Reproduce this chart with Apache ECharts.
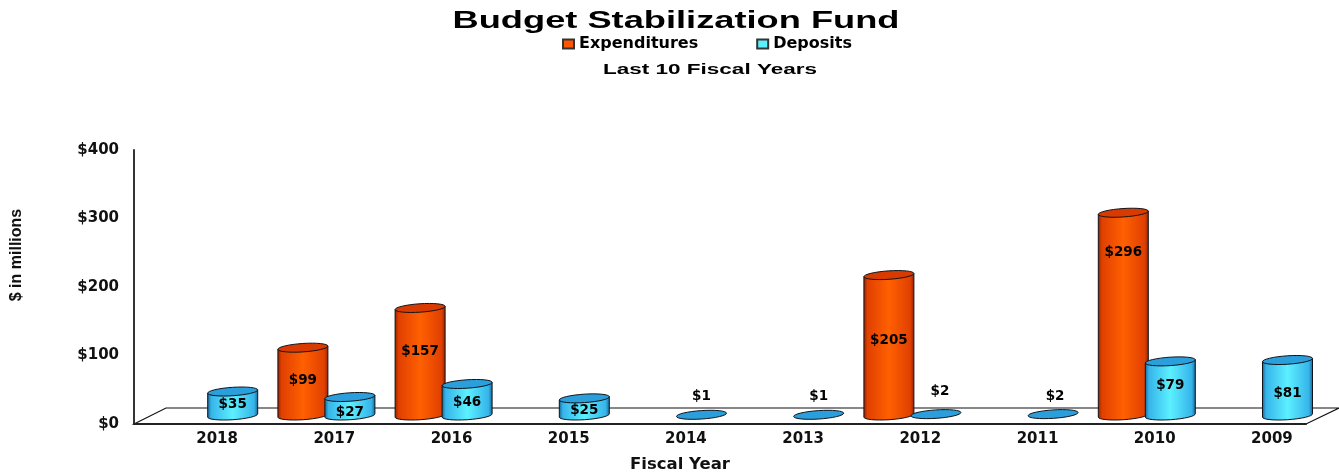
<!DOCTYPE html>
<html>
<head>
<meta charset="utf-8">
<style>html,body{margin:0;padding:0;background:#fff}#c{width:1339px;height:473px}</style>
<script src="https://cdn.jsdelivr.net/npm/echarts@6/dist/echarts.min.js"></script>
</head>
<body>
<div id="c"></div>
<script>
const years = ['2018','2017','2016','2015','2014','2013','2012','2011','2010','2009'];
const expenditures = [null,99,157,null,null,null,205,null,296,null];
const deposits = [35,27,46,25,1,1,2,2,79,81];
const yTicks = [0,100,200,300,400];

// label placement: pixels below the top of each cylinder (negative = above)
const expLabelDrop = [0,33,44,0,0,0,65,0,40,0];
const depLabelDrop = [13,15,19,12,-18,-18,-23,-18,24,33];
const depLabelShift = [0,0,0,0,0,0,4,2,0,0];

const FONT = '"DejaVu Sans", sans-serif';
const WIDE = '"Liberation Sans", Arial, sans-serif';
const AX = {left:134, top:150, width:1172, height:274};
const DEPTH = {x:16.6, y:8.5};
const PLANE = {back:16, dx:32};

const chart = echarts.init(document.getElementById('c'));

function cylinder(side, colors, topColor, drops, shifts) {
  return function (params, api) {
    const v = api.value(1);
    if (v == null || isNaN(v)) return null;
    const i = api.value(0);
    const t = api.coord([i, v]), b = api.coord([i, 0]);
    const cx = t[0] + side * 23.5, rx = 25, ry = 4.2, d = 1.65, rot = -3.8;
    const l = cx - rx, r = cx + rx;
    const body = `M${l} ${t[1]+d}L${r} ${t[1]-d}L${r} ${b[1]-d}A${rx} ${ry} ${rot} 0 1 ${l} ${b[1]+d}Z`;
    const top = `M${l} ${t[1]+d}A${rx} ${ry} ${rot} 0 1 ${r} ${t[1]-d}A${rx} ${ry} ${rot} 0 1 ${l} ${t[1]+d}Z`;
    const grad = new echarts.graphic.LinearGradient(0,0,1,0,[
      {offset:0,color:colors[0]},{offset:0.08,color:colors[1]},{offset:0.5,color:colors[2]},
      {offset:0.92,color:colors[1]},{offset:1,color:colors[0]}]);
    const children = [];
    if (b[1] - t[1] > 1.5) {
      children.push({type:'path',shape:{pathData:body},style:{fill:grad,stroke:'#10141a',lineWidth:1}});
    }
    children.push({type:'path',shape:{pathData:top},style:{fill:topColor,stroke:'#10141a',lineWidth:1}});
    children.push({type:'text',style:{
      text:'$'+v, x:cx+(shifts?shifts[i]:0), y:t[1]+drops[i], align:'center', verticalAlign:'middle',
      font:'bold 13.5px '+FONT, fill:'#000'}, z2:10});
    return {type:'group',children};
  };
}

chart.setOption({
  backgroundColor:'#fff',
  animation:false,
  legend:{
    data:['Expenditures','Deposits'],left:562,top:36,padding:0,icon:'rect',itemWidth:11,itemHeight:9,itemGap:58,
    textStyle:{fontFamily:FONT,fontWeight:'bold',fontSize:16,color:'#000'}
  },
  grid:[
    {left:AX.left,top:AX.top,width:AX.width,height:AX.height,outerBoundsMode:'none',containLabel:false},
    {left:AX.left+DEPTH.x,top:AX.top-DEPTH.y,width:AX.width,height:AX.height,outerBoundsMode:'none',containLabel:false}
  ],
  xAxis:[
    {type:'category',gridIndex:0,data:years,
     axisLine:{show:true,lineStyle:{color:'#222',width:2}},axisTick:{show:false},
     axisLabel:{fontFamily:FONT,fontWeight:'bold',fontSize:15,color:'#111',margin:8,padding:[0,0,0,49],interval:0},
     name:'Fiscal Year',nameLocation:'middle',nameGap:32,
     nameTextStyle:{fontFamily:FONT,fontWeight:'bold',fontSize:16.5,color:'#111',padding:[0,80,0,0]}},
    {type:'category',gridIndex:1,data:years,show:false}
  ],
  yAxis:[
    {type:'value',gridIndex:0,min:yTicks[0],max:yTicks[yTicks.length-1],interval:100,
     axisLine:{show:true,lineStyle:{color:'#333',width:2}},axisTick:{show:false},splitLine:{show:false},
     axisLabel:{fontFamily:FONT,fontWeight:'bold',fontSize:15,color:'#111',margin:15,padding:[5,0,0,0],formatter:v=>'$'+v},
     name:'$ in millions',nameLocation:'middle',nameGap:109,nameRotate:90,
     nameTextStyle:{fontFamily:'"Liberation Sans Narrow","Liberation Sans",sans-serif',fontWeight:'bold',fontSize:16,color:'#111',padding:[0,0,0,64]}},
    {type:'value',gridIndex:1,min:yTicks[0],max:yTicks[yTicks.length-1],interval:100,show:false}
  ],
  graphic:[
    {type:'polygon',z:-1,silent:true,
     shape:{points:[
      [AX.left,AX.top+AX.height],
      [AX.left+PLANE.dx,AX.top+AX.height-PLANE.back],
      [AX.left+AX.width+PLANE.dx+1,AX.top+AX.height-PLANE.back],
      [AX.left+AX.width,AX.top+AX.height]]},
     style:{fill:'#fff',stroke:'#111',lineWidth:1.2}},
    {type:'text',x:676,y:21,scaleX:1.51,silent:true,
     style:{text:'Budget Stabilization Fund',font:'bold 24px '+WIDE,fill:'#000',align:'center',verticalAlign:'middle'}},
    {type:'text',x:710,y:70,scaleX:1.5,silent:true,
     style:{text:'Last 10 Fiscal Years',font:'bold 15px '+WIDE,fill:'#000',align:'center',verticalAlign:'middle'}}
  ],
  series:[
    {name:'Expenditures',type:'custom',xAxisIndex:1,yAxisIndex:1,coordinateSystem:'cartesian2d',
     itemStyle:{color:'#ff5500',borderColor:'#333',borderWidth:1},
     encode:{x:0,y:1},
     data:years.map((y,i)=>[i,expenditures[i]]),
     renderItem:cylinder(-1,['#8a2000','#e04000','#ff6000'],'#d93a00',expLabelDrop)},
    {name:'Deposits',type:'custom',xAxisIndex:1,yAxisIndex:1,coordinateSystem:'cartesian2d',
     itemStyle:{color:'#5cf0ff',borderColor:'#333',borderWidth:1},
     encode:{x:0,y:1},
     data:years.map((y,i)=>[i,deposits[i]]),
     renderItem:cylinder(1,['#14608c','#36b4ea','#5cf0ff'],'#2a9fdc',depLabelDrop,depLabelShift)}
  ]
});
</script>
</body>
</html>
